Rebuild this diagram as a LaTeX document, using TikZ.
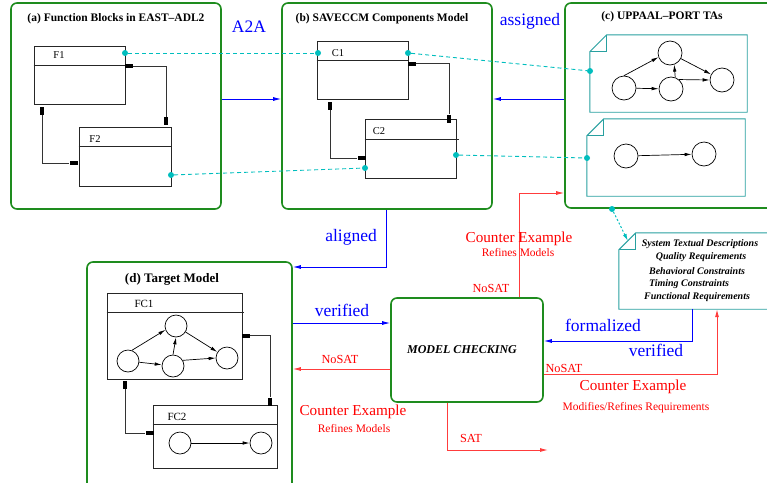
\documentclass[tikz,border=0pt]{standalone}
\usepackage{fontspec}
\setmainfont{Liberation Serif}
\usetikzlibrary{arrows.meta,calc}
\definecolor{pgreen}{RGB}{30,140,30}
\definecolor{tealdoc}{RGB}{40,160,160}
\definecolor{cyanp}{RGB}{0,190,190}
\definecolor{lred}{RGB}{255,60,60}
\definecolor{pblue}{RGB}{0,0,255}
\newcommand\docoutline[2]{%
  \draw[docline] ([yshift=-#2]#1.north west) -- ([xshift=#2]#1.north west) -- (#1.north east) -- (#1.south east) -- (#1.south west) -- cycle;
  \draw[docline] ([xshift=#2]#1.north west) -- ([xshift=#2,yshift=-#2]#1.north west) -- ([yshift=-#2]#1.north west);}
\newcommand\blksep[2]{\draw[blk] ([yshift=-#2]#1.north west) -- ([yshift=-#2]#1.north east);}
\begin{document}
\begin{tikzpicture}[x=1pt,y=-1pt,
  panel/.style={draw=pgreen, line width=1.6pt, rounded corners=6pt, fill=white, inner sep=0pt},
  blk/.style={draw=black!85, line width=0.8pt, inner sep=0pt},
  docnode/.style={inner sep=0pt, fill=white},
  docline/.style={draw=tealdoc, line width=0.9pt},
  st/.style={circle, draw, line width=0.7pt, minimum size=24pt, inner sep=0pt},
  sst/.style={circle, draw, line width=0.7pt, minimum size=22pt, inner sep=0pt},
  ar/.style={-{Latex[length=7pt,width=3.5pt]}, line width=0.7pt},
  hport/.style={fill=black, inner sep=0pt, minimum width=8pt, minimum height=4pt},
  vport/.style={fill=black, inner sep=0pt, minimum width=4pt, minimum height=8pt},
  cport/.style={circle, fill=cyanp, inner sep=0pt, minimum size=6pt},
  conn/.style={draw=black!80, line width=0.8pt},
  cdash/.style={draw=cyanp, line width=0.9pt, dash pattern=on 4pt off 3pt},
  cdot/.style={draw=cyanp, line width=1pt, dash pattern=on 2pt off 2pt, -{Latex[length=7pt,width=4pt]}},
  bluearr/.style={draw=pblue, line width=0.9pt, -{Latex[length=8pt,width=4pt]}},
  redarr/.style={draw=lred, line width=0.9pt, -{Latex[length=8pt,width=4pt]}},
  ttl/.style={font=\bfseries\fontsize{11.5}{13}\selectfont},
  blab/.style={text=pblue, font=\fontsize{17.5}{19}\selectfont, inner sep=0pt},
  rbig/.style={text=red, font=\fontsize{15.2}{17}\selectfont, inner sep=0pt},
  rsmall/.style={text=red, font=\fontsize{11.5}{13}\selectfont, inner sep=0pt},
  rnosat/.style={text=red, font=\fontsize{12.3}{14}\selectfont, inner sep=0pt},
  blabel/.style={font=\fontsize{10.5}{12}\selectfont, inner sep=0pt},
  req/.style={font=\bfseries\itshape\fontsize{10}{12}\selectfont, inner sep=0pt}
]
\useasboundingbox (0,0) rectangle (767,482);
\clip (0,0) rectangle (767,482);

% helper coordinates
\coordinate (yA) at (0,99);
\coordinate (yAl) at (0,267);
\coordinate (yV) at (0,323);
\coordinate (yN) at (0,369);
\coordinate (yCE) at (0,193);
\coordinate (yF) at (0,341);
\coordinate (yR) at (0,374);
\coordinate (xAl) at (386,0);
\coordinate (xCE) at (519,0);
\coordinate (xFo) at (692,0);
\coordinate (xRr) at (717,0);
\coordinate (xS) at (447,0);
\coordinate (satend) at (548,450);

% panels
\node[panel, minimum width=210pt, minimum height=206pt] (pa) at (116,106) {};
\node[panel, minimum width=210pt, minimum height=206pt] (pb) at (387,106) {};
\node[panel, minimum width=220pt, minimum height=205pt] (pc) at (675,105.5) {};
\node[panel, minimum width=205pt, minimum height=233pt] (pd) at (189.5,378.5) {};
\node[panel, minimum width=152pt, minimum height=104pt] (mc) at (467,350) {};

% titles
\node[ttl] (ta) at (116,19) {(a) Function Blocks in EAST–ADL2};
\node[ttl] (tb) at (382,19) {(b) SAVECCM Components Model};
\node[ttl] (tc) at (662,17) {(c) UPPAAL–PORT TAs};
\node[font=\bfseries\fontsize{13}{15}\selectfont] (td) at (172,279) {(d) Target Model};
\node[font=\bfseries\itshape\fontsize{12}{14}\selectfont] (mct) at (462,350) {MODEL CHECKING};

% (a) blocks
\node[blk, minimum width=91pt, minimum height=58pt] (F1) at (79.5,75) {};
\blksep{F1}{20pt}
\node[blabel] (F1l) at (59,55) {F1};
\node[blk, minimum width=92pt, minimum height=59pt] (F2) at (125,156.5) {};
\blksep{F2}{20pt}
\node[blabel] (F2l) at (95,139) {F2};
\node[hport] (pF1r) at (129,66) {};
\node[vport] (pF2t) at (166,121) {};
\node[vport] (pF1b) at (42,110.5) {};
\node[hport] (pF2l) at (73.5,163) {};
\draw[conn] (pF1r.east) -| (pF2t.north);
\draw[conn] (pF1b.south) |- (pF2l.west);

% (b) blocks
\node[blk, minimum width=91pt, minimum height=58pt] (C1) at (362.5,70) {};
\blksep{C1}{20pt}
\node[blabel] (C1l) at (338,53) {C1};
\node[blk, minimum width=91pt, minimum height=59pt] (C2) at (410.5,148.5) {};
\draw[blk] ([yshift=-21pt]C2.north west) -- ([yshift=-21pt,xshift=3pt]C2.north east);
\node[blabel] (C2l) at (379,131) {C2};
\node[hport] (pC1r) at (412,63.5) {};
\node[vport] (pC2t) at (449,118.5) {};
\node[vport] (pC1b) at (330,105.5) {};
\node[hport] (pC2l) at (361.5,158) {};
\draw[conn] (pC1r.east) -| (pC2t.north);
\draw[conn] (pC1b.south) |- (pC2l.west);

% (c) TAs
\node[docnode, minimum width=157pt, minimum height=77pt] (ta1) at (668.5,73.5) {};
\docoutline{ta1}{17pt}
\node[st] (s1) at (624,88) {};
\node[st] (s2) at (670,53) {};
\node[st] (s3) at (671,89) {};
\node[st] (s4) at (722,80) {};
\draw[ar] (s1.north) -- (s2.200);
\draw[ar] (s1) -- (s3);
\draw[ar] (s3.70) -- (s2.290);
\draw[ar] (s2) -- (s4);
\draw[ar] (s3.50) -- (s4.west);
\node[docnode, minimum width=158pt, minimum height=77pt] (ta2) at (666,157.5) {};
\docoutline{ta2}{17pt}
\node[st] (s5) at (626,156) {};
\node[st] (s6) at (704,154) {};
\draw[ar] (s5) -- (s6);

% requirements document
\node[docnode, minimum width=162pt, minimum height=76pt] (rq) at (700,271) {};
\docoutline{rq}{17pt}
\node[req] (r1) at (700,244) {System Textual Descriptions};
\node[req] (r2) at (701,257) {Quality Requirements};
\node[req] (r3) at (697,271) {Behavioral Constraints};
\node[req] (r4) at (689,284) {Timing Constraints};
\node[req] (r5) at (697,297) {Functional Requirements};

% (d) target model
\node[blk, minimum width=135pt, minimum height=86pt] (FC1) at (174.5,336) {};
\draw[blk] ([yshift=-20pt]FC1.north west) -- ([yshift=-20pt,xshift=2pt]FC1.north east);
\node[blabel, font=\fontsize{11}{13}\selectfont] (FC1l) at (144,304) {FC1};
\node[sst] (q1) at (128,361) {};
\node[sst] (q2) at (176,326) {};
\node[sst] (q3) at (173,366) {};
\node[sst] (q4) at (227,358) {};
\draw[ar] (q1.70) -- (q2.200);
\draw[ar] (q1) -- (q3);
\draw[ar] (q3.north) -- (q2.south);
\draw[ar] (q2) -- (q4);
\draw[ar] (q3.30) -- (q4.west);
\node[blk, minimum width=124pt, minimum height=63pt] (FC2) at (215,436.5) {};
\blksep{FC2}{20pt}
\node[blabel, font=\fontsize{11}{13}\selectfont] (FC2l) at (177,417) {FC2};
\node[sst] (q5) at (180,443) {};
\node[sst] (q6) at (261,443) {};
\draw[ar] (q5) -- (q6);
\node[hport] (pFC1r) at (245.5,335.5) {};
\node[vport] (pFC2t) at (270,401.5) {};
\node[vport] (pFC1b) at (125,385) {};
\node[hport] (pFC2l) at (149.5,433) {};
\draw[conn] (pFC1r.east) -| (pFC2t.north);
\draw[conn] (pFC1b.south) |- (pFC2l.west);

% cyan ports and dashed links
\node[cport] (cF1) at (125,53) {};
\node[cport] (cC1l) at (318,53) {};
\node[cport] (cC1r) at (408,53) {};
\node[cport] (cF2) at (171,175) {};
\node[cport] (cC2l) at (365,168) {};
\node[cport] (cC2r) at (456,155) {};
\node[cport] (cTA1) at (590,71) {};
\node[cport] (cTA2) at (587,158) {};
\node[cport] (cPc) at (612,209) {};
\draw[cdash] (cF1) -- (cC1l);
\draw[cdash] (cC1r) -- (cTA1);
\draw[cdash] (cF2) -- (cC2l);
\draw[cdash] (cC2r) -- (cTA2);
\draw[cdot] (cPc) -- ($(rq.north west)+(9,8)$);

% blue connectors
\draw[bluearr] (pa.east |- yA) -- (pb.west |- yA);
\node[blab] (lA2A) at (249,27) {A2A};
\draw[bluearr] (pc.west |- yA) -- (pb.east |- yA);
\node[blab] (lass) at (530,21) {assigned};
\draw[bluearr] (pb.south -| xAl) |- (pd.east |- yAl);
\node[blab] (lal) at (351,237) {aligned};
\draw[bluearr] (pd.east |- yV) -- (mc.west |- yV);
\node[blab] (lver1) at (342,310) {verified};
\draw[bluearr] (rq.south -| xFo) |- (mc.east |- yF);
\node[blab] (lform) at (603,325) {formalized};
\node[blab] (lver2) at (656,350) {verified};

% red connectors
\draw[redarr] (mc.west |- yN) -- (pd.east |- yN);
\node[rnosat] (ln1) at (340,359) {NoSAT};
\node[rbig] (lce1) at (353,412) {Counter Example};
\node[rsmall] (lrm1) at (354,428) {Refines Models};
\draw[redarr] (mc.north -| xCE) |- (pc.west |- yCE);
\node[rbig] (lce2) at (519,239) {Counter Example};
\node[rsmall] (lrm2) at (518,253) {Refines Models};
\node[rnosat] (ln2) at (491,288) {NoSAT};
\draw[redarr] (mc.east |- yR) -| (rq.south -| xRr);
\node[rnosat] (ln3) at (564,368) {NoSAT};
\node[rbig] (lce3) at (633,387) {Counter Example};
\node[rsmall] (lmr) at (636,408) {Modifies/Refines Requirements};
\draw[redarr] (mc.south -| xS) |- (satend);
\node[rnosat] (lsat) at (471,438) {SAT};
\end{tikzpicture}
\end{document}
